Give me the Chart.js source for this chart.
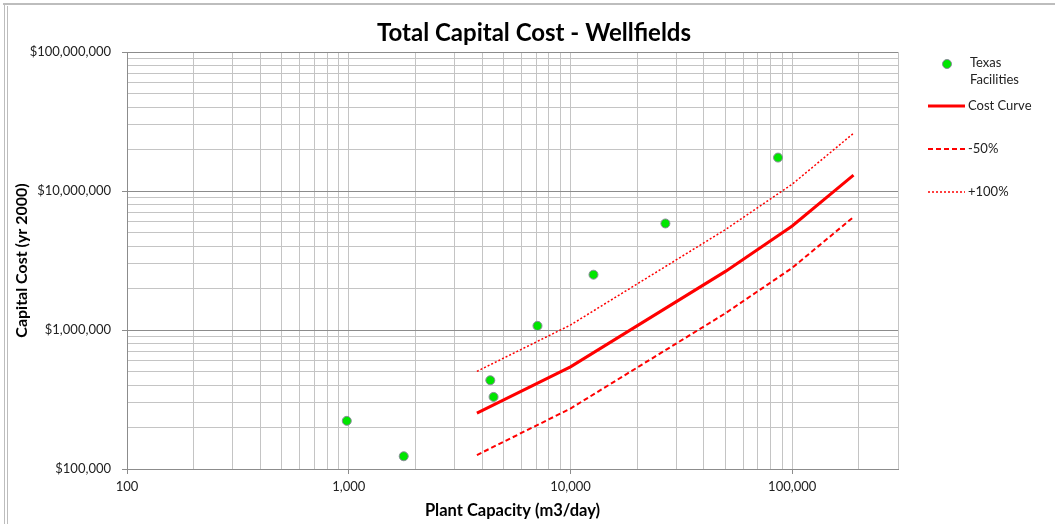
<!DOCTYPE html>
<html lang="en">
<head>
<meta charset="UTF-8">
<title>Total Capital Cost - Wellfields</title>
<script src="https://cdn.jsdelivr.net/npm/chart.js"></script>
<style>
  body { margin: 0; background: #fff; }
  .chart-box { width: 1055px; height: 524px; position: relative; }
</style>
</head>
<body>
<div class="chart-box"><canvas id="costChart"></canvas></div>
<script>
// Texas wellfield facilities (m3/day, $ yr 2000)
const facilityCapacity = [980, 1770, 4350, 4500, 7100, 12700, 26800, 86300];
const facilityCost = [222000, 123500, 435000, 330000, 1071000, 2500000, 5840000, 17400000];

// cost curve and its bands
const curveCapacity = [3785, 10000, 50000, 100000, 189000];
const costCurve = [252000, 543000, 2640000, 5600000, 13000000];
const costMinus50 = [126000, 272000, 1320000, 2800000, 6500000];
const costPlus100 = [504000, 1086000, 5280000, 11200000, 26000000];

const seriesNames = ['Texas Facilities', 'Cost Curve', '-50%', '+100%'];

// axis decades
const xMajorTicks = [100, 1000, 10000, 100000];
const yMajorTicks = [100000, 1000000, 10000000, 100000000];
const xMin = 100, xMax = 300000;
const yMin = 100000, yMax = 100000000;

const FONT = 'Lato, "Open Sans", sans-serif';

function logGrid(majors, max) {
    const vals = [];
    majors.forEach(m => {
        for (let k = 1; k <= 9; k++) {
            if (m * k <= max) vals.push(m * k);
        }
    });
    return vals;
}

function toPoints(xs, ys) {
    return xs.map((x, i) => ({ x: x, y: ys[i] }));
}

const frameAndTitle = {
    id: 'frameAndTitle',
    beforeDraw(chart) {
        const ctx = chart.ctx;
        ctx.save();
        ctx.strokeStyle = '#bdbdbd';
        ctx.lineWidth = 2;
        ctx.beginPath();
        ctx.moveTo(3, 4);
        ctx.lineTo(1055, 4);
        ctx.stroke();
        ctx.lineWidth = 1;
        ctx.beginPath();
        ctx.moveTo(4.5, 4);
        ctx.lineTo(4.5, 524);
        ctx.moveTo(7.5, 6);
        ctx.lineTo(7.5, 524);
        ctx.stroke();
        ctx.restore();
    },
    afterDraw(chart) {
        const ctx = chart.ctx;
        ctx.save();
        ctx.fillStyle = '#000';
        ctx.font = 'bold 24px ' + FONT;
        ctx.textAlign = 'center';
        ctx.textBaseline = 'middle';
        ctx.fillText('Total Capital Cost - Wellfields', 534, 33);
        ctx.restore();
    }
};

const sideLegend = {
    id: 'sideLegend',
    afterDraw(chart) {
        const ctx = chart.ctx;
        const ds = chart.data.datasets;
        ctx.save();
        ctx.font = '13px ' + FONT;
        ctx.fillStyle = '#222';
        ctx.textBaseline = 'middle';
        ctx.textAlign = 'left';

        // scatter entry
        ctx.beginPath();
        ctx.arc(947, 64, 4.5, 0, Math.PI * 2);
        ctx.fillStyle = ds[0].backgroundColor;
        ctx.fill();
        ctx.strokeStyle = ds[0].borderColor;
        ctx.lineWidth = 1;
        ctx.stroke();
        ctx.fillStyle = '#222';
        const words = ds[0].label.split(' ');
        ctx.fillText(words[0], 970, 63);
        ctx.fillText(words.slice(1).join(' '), 970, 80);

        // line entries
        const rows = [106, 149, 192];
        for (let i = 1; i <= 3; i++) {
            const y = rows[i - 1];
            ctx.beginPath();
            ctx.strokeStyle = ds[i].borderColor;
            ctx.lineWidth = ds[i].borderWidth;
            ctx.setLineDash(ds[i].borderDash || []);
            ctx.moveTo(928, y);
            ctx.lineTo(965, y);
            ctx.stroke();
            ctx.setLineDash([]);
            ctx.fillText(ds[i].label, 968, y);
        }
        ctx.restore();
    }
};

const ctx = document.getElementById('costChart').getContext('2d');
new Chart(ctx, {
    type: 'scatter',
    data: {
        datasets: [
            {
                label: seriesNames[0],
                data: toPoints(facilityCapacity, facilityCost),
                backgroundColor: '#00e600',
                borderColor: '#8a8a9a',
                borderWidth: 1,
                pointRadius: 4.5,
                showLine: false
            },
            {
                label: seriesNames[1],
                data: toPoints(curveCapacity, costCurve),
                borderColor: '#ff0000',
                borderWidth: 3,
                pointRadius: 0,
                showLine: true,
                tension: 0
            },
            {
                label: seriesNames[2],
                data: toPoints(curveCapacity, costMinus50),
                borderColor: '#ff0000',
                borderWidth: 2,
                borderDash: [5, 3],
                pointRadius: 0,
                showLine: true,
                tension: 0
            },
            {
                label: seriesNames[3],
                data: toPoints(curveCapacity, costPlus100),
                borderColor: '#ff0000',
                borderWidth: 1.5,
                borderDash: [2, 2],
                pointRadius: 0,
                showLine: true,
                tension: 0
            }
        ]
    },
    options: {
        responsive: true,
        maintainAspectRatio: false,
        animation: false,
        layout: { padding: { left: 0, right: 157, top: 52, bottom: 0 } },
        plugins: {
            legend: { display: false },
            title: { display: false },
            tooltip: { enabled: false }
        },
        scales: {
            x: {
                type: 'logarithmic',
                min: xMin,
                max: xMax,
                afterFit: scale => { scale.height = 55; },
                afterBuildTicks: scale => {
                    scale.ticks = logGrid(xMajorTicks, xMax).map(v => ({ value: v, major: xMajorTicks.includes(v) }));
                },
                border: { color: '#8c8c8c' },
                grid: {
                    color: '#c4c4c4',
                    tickLength: 5,
                    tickColor: c => (c.tick && xMajorTicks.includes(c.tick.value)) ? '#8c8c8c' : 'rgba(0,0,0,0)'
                },
                ticks: {
                    autoSkip: false,
                    maxRotation: 0,
                    padding: 5,
                    color: '#222',
                    font: { family: FONT, size: 13 },
                    callback: v => xMajorTicks.includes(v) ? v.toLocaleString('en-US') : ''
                },
                title: {
                    display: true,
                    text: 'Plant Capacity (m3/day)',
                    color: '#000',
                    font: { family: FONT, size: 16.5, weight: 'bold' },
                    padding: { top: 0, bottom: 3 }
                }
            },
            y: {
                type: 'logarithmic',
                min: yMin,
                max: yMax,
                afterFit: scale => { scale.width = 127; },
                afterBuildTicks: scale => {
                    scale.ticks = logGrid(yMajorTicks, yMax).map(v => ({ value: v, major: yMajorTicks.includes(v) }));
                },
                border: { color: '#8c8c8c' },
                grid: {
                    color: c => (c.tick && yMajorTicks.includes(c.tick.value)) ? '#8c8c8c' : '#c4c4c4',
                    tickLength: 5,
                    tickColor: c => (c.tick && yMajorTicks.includes(c.tick.value)) ? '#8c8c8c' : 'rgba(0,0,0,0)'
                },
                ticks: {
                    autoSkip: false,
                    padding: 11,
                    color: '#222',
                    font: { family: FONT, size: 13 },
                    callback: v => yMajorTicks.includes(v) ? '$' + v.toLocaleString('en-US') : ''
                },
                title: {
                    display: true,
                    text: 'Capital Cost (yr 2000)',
                    color: '#000',
                    font: { family: FONT, size: 16, weight: 'bold' },
                    padding: { top: 12, bottom: 0 }
                }
            }
        }
    },
    plugins: [frameAndTitle, sideLegend]
});
</script>
</body>
</html>
